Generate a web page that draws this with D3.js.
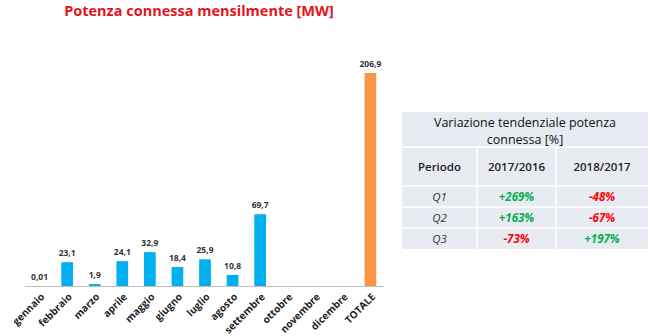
<!DOCTYPE html>
<html><head><meta charset="utf-8">
<script src="https://cdn.jsdelivr.net/npm/d3@7"></script>
<style>body{margin:0;background:#fff;} svg{display:block;font-family:"Open Sans","Noto Sans",sans-serif;}</style>
</head><body>
<svg id="c" width="650" height="336"></svg>
<script>
const months = ["gennaio","febbraio","marzo","aprile","maggio","giugno","luglio","agosto","settembre","ottobre","novembre","dicembre","TOTALE"];
const values = [0.01,23.1,1.9,24.1,32.9,18.4,25.9,10.8,69.7,null,null,null,206.9];
const valueLabels = ["0,01","23,1","1,9","24,1","32,9","18,4","25,9","10,8","69,7","","","","206,9"];
const tableTitle = ["Variazione tendenziale potenza","connessa [%]"];
const tableHeader = ["Periodo","2017/2016","2018/2017"];
const periods = ["Q1","Q2","Q3"];
const var1716 = ["+269%","+163%","-73%"];
const var1817 = ["-48%","-67%","+197%"];

const svg = d3.select("#c");
const baseY = 286;
const x = d3.scaleBand().domain(months).range([26, 384]).paddingInner(0.575).paddingOuter(0.28);
const y = d3.scaleLinear().domain([0, 206.9]).range([baseY, 73]);

svg.append("text").attr("x",199).attr("y",16).attr("text-anchor","middle")
  .attr("fill","#e3141b").attr("font-size",14.5).attr("font-weight","bold").text("Potenza connessa mensilmente [MW]");

const bars = months.map((m,i)=>({m, v: values[i], l: valueLabels[i], i}));
svg.selectAll("rect.bar").data(bars.filter(d=>d.v!=null)).join("rect").attr("class","bar")
  .attr("x",d=>x(d.m)).attr("width",x.bandwidth())
  .attr("y",d=>y(d.v)).attr("height",d=>baseY-y(d.v))
  .attr("fill",d=>d.m==="TOTALE"?"#f79646":"#00b0f0");

svg.append("line").attr("x1",25).attr("x2",384).attr("y1",baseY+0.5).attr("y2",baseY+0.5).attr("stroke","#bfbfbf").attr("stroke-width",1);

svg.selectAll("text.val").data(bars.filter(d=>d.v!=null)).join("text").attr("class","val")
  .attr("x",d=>x(d.m)+x.bandwidth()/2).attr("y",d=>y(d.v)-6)
  .attr("text-anchor","middle").attr("font-size",8.5).attr("font-weight","bold").attr("fill","#333")
  .text(d=>d.l);

svg.selectAll("text.mon").data(months).join("text").attr("class","mon")
  .attr("transform",d=>`translate(${x(d)+x.bandwidth()/2+3},${baseY+9}) rotate(-45)`)
  .attr("text-anchor","end").attr("dy","0.35em").attr("font-size",10).attr("font-weight","bold").attr("fill","#222")
  .text(d=>d);

// table
const tx = 402, tw = 246;
const colX = [402, 477, 556, 648];
const rowsY = [112, 147, 186, 207, 228, 249];
const g = svg.append("g");
g.append("rect").attr("x",tx).attr("y",rowsY[0]).attr("width",tw).attr("height",rowsY[5]-rowsY[0]).attr("fill","#e9ebf3");
rowsY.slice(1,5).forEach(yy=>g.append("line").attr("x1",tx).attr("x2",tx+tw).attr("y1",yy).attr("y2",yy).attr("stroke","#fff").attr("stroke-width",1.5));
[colX[1],colX[2]].forEach(xx=>g.append("line").attr("x1",xx).attr("x2",xx).attr("y1",rowsY[1]).attr("y2",rowsY[5]).attr("stroke","#fff").attr("stroke-width",1.5));
tableTitle.forEach((t,i)=>g.append("text").attr("x",tx+tw/2).attr("y",127+i*17).attr("text-anchor","middle")
  .attr("font-size",12.5).attr("font-weight","500").attr("fill","#111").text(t));
tableHeader.forEach((t,i)=>g.append("text").attr("x",(colX[i]+colX[i+1])/2).attr("y",171).attr("text-anchor","middle")
  .attr("font-size",11.5).attr("font-weight","600").attr("fill","#222").text(t));
const col = s => s.startsWith("+") ? "#00b050" : "#ff0000";
periods.forEach((p,r)=>{
  const cy = (rowsY[r+2]+rowsY[r+3])/2 + 4;
  g.append("text").attr("x",(colX[0]+colX[1])/2).attr("y",cy).attr("text-anchor","middle").attr("font-size",11.5).attr("font-style","italic").attr("fill","#333").text(p);
  g.append("text").attr("x",(colX[1]+colX[2])/2).attr("y",cy).attr("text-anchor","middle").attr("font-size",11.5).attr("font-style","italic").attr("font-weight","bold").attr("fill",col(var1716[r])).text(var1716[r]);
  g.append("text").attr("x",(colX[2]+colX[3])/2).attr("y",cy).attr("text-anchor","middle").attr("font-size",11.5).attr("font-style","italic").attr("font-weight","bold").attr("fill",col(var1817[r])).text(var1817[r]);
});
</script>
</body></html>
